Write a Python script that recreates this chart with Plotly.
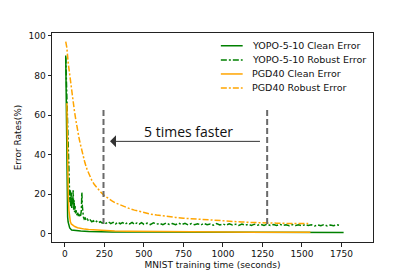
import plotly.graph_objects as go

# ---------------- data ----------------
yopo_clean_x = [5, 8, 11, 14, 17, 20, 25, 30, 42, 60, 80, 100, 150, 200, 300, 500, 800, 1100, 1400, 1764]
yopo_clean_y = [90, 60, 35, 15, 8.5, 6, 3.7, 3, 2, 1.7, 1.5, 1.4, 1.2, 1.1, 1.0, 0.9, 0.8, 0.75, 0.7, 0.7]

yopo_robust_x = [5, 10, 15, 20, 25, 28, 31, 34, 37, 40, 43, 46, 49, 52, 55, 58, 61, 64, 67, 70,
                 75, 80, 85, 90, 95, 100, 104, 107, 110, 113, 117, 122, 128, 135, 142, 150, 160, 170,
                 180, 190, 200, 212, 224, 236, 248, 260, 275, 290, 305, 320, 335, 350, 365, 380, 395,
                 410, 425, 440, 455, 470, 485, 500, 520, 540, 560, 580, 600, 620, 640, 660, 680, 700,
                 720, 740, 760, 780, 800, 820, 840, 860, 880, 900, 920, 940, 960, 980, 1000, 1020,
                 1040, 1060, 1080, 1100, 1120, 1140, 1160, 1180, 1200, 1220, 1240, 1260, 1280, 1300,
                 1320, 1340, 1360, 1380, 1400, 1420, 1440, 1460, 1480, 1500, 1520, 1540, 1560, 1580,
                 1600, 1620, 1640, 1660, 1680, 1700, 1720, 1743]
yopo_robust_y = [89, 72, 52, 40, 33, 24, 16, 22, 14, 21, 13, 18, 15, 22, 12, 17, 11, 14, 10, 12,
                 9.5, 11, 9, 10.5, 8.5, 9.5, 12, 21, 14, 9, 8.5, 7.5, 8, 6.8, 7.4, 6.4, 7.0, 6.1,
                 6.6, 5.8, 6.4, 5.6, 6.2, 5.4, 6.0, 5.3, 6.1, 5.2, 5.8, 5.0, 5.9, 5.1, 5.7, 4.9, 5.6,
                 5.0, 5.8, 4.8, 5.5, 4.9, 5.7, 4.8, 5.4, 4.7, 5.6, 4.9, 5.3, 4.6, 5.5, 4.8, 5.2, 4.6,
                 5.4, 4.7, 5.3, 4.5, 5.2, 4.6, 5.1, 4.5, 5.3, 4.6, 5.0, 4.4, 5.2, 4.5, 5.0, 4.4,
                 5.1, 4.5, 4.9, 4.3, 5.0, 4.4, 4.8, 4.3, 4.9, 4.4, 4.8, 4.2, 4.9, 4.3,
                 4.7, 4.2, 4.8, 4.3, 4.6, 4.1, 4.7, 4.2, 4.6, 4.1, 4.7, 4.2, 4.6, 4.0,
                 4.5, 4.1, 4.7, 4.0, 4.5, 4.1, 4.6, 4.2]

pgd_clean_x = [12, 15, 18, 21, 25, 30, 34, 40, 50, 62, 80, 100, 125, 150, 200, 250, 315, 400, 500,
               650, 800, 1000, 1200, 1400, 1554]
pgd_clean_y = [66, 45, 28, 19, 12, 8, 6.2, 5, 4.3, 3.7, 3.1, 2.7, 2.4, 2.2, 1.9, 1.7, 1.5, 1.3, 1.2,
               1.1, 1.0, 0.9, 0.85, 0.8, 0.8]

pgd_robust_x = [5, 12, 21, 30, 40, 48, 60, 70, 80, 90, 100, 113, 126, 140, 155, 170, 185, 200, 215,
                230, 250, 270, 295, 320, 350, 380, 410, 440, 470, 500, 540, 580, 620, 660, 700, 750,
                800, 850, 900, 950, 1000, 1060, 1120, 1170, 1220, 1280, 1340, 1400, 1460, 1540]
pgd_robust_y = [97, 94, 86, 80, 74, 69, 62, 57, 52, 48, 44.5, 40, 36, 32.5, 29.5, 27, 25, 23.5, 22,
                20.8, 19.3, 18, 16.8, 15.6, 14.5, 13.5, 12.7, 12, 11.3, 10.7, 10, 9.5, 9, 8.7, 8.3,
                7.9, 7.6, 7.4, 7.1, 6.8, 6.6, 6.3, 6.0, 5.8, 5.6, 5.5, 5.4, 5.3, 5.3, 5.2]

series_names = ["YOPO-5-10 Clean Error", "YOPO-5-10 Robust Error", "PGD40 Clean Error", "PGD40 Robust Error"]
speedup_lines_x = [244, 1280]
speedup_lines_y = [5, 64]
arrow_from = (1244, 46.7)
arrow_to = (285, 46.7)
speedup_text = "5 times faster"
speedup_text_pos = (781, 51.8)
x_ticks = [0, 250, 500, 750, 1000, 1250, 1500, 1750]
y_ticks = [0, 20, 40, 60, 80, 100]

# ---------------- styles ----------------
GREEN = "#008000"
ORANGE = "#FFA500"
DASHDOT = "6px,2px,2px,2px"
FONT = "DejaVu Sans"

fig = go.Figure()
specs = [
    (yopo_clean_x, yopo_clean_y, GREEN, "solid"),
    (yopo_robust_x, yopo_robust_y, GREEN, DASHDOT),
    (pgd_clean_x, pgd_clean_y, ORANGE, "solid"),
    (pgd_robust_x, pgd_robust_y, ORANGE, DASHDOT),
]
for (xs, ys, col, dash), name in zip(specs, series_names):
    fig.add_trace(go.Scatter(x=xs, y=ys, mode="lines", name=name, showlegend=False,
                             line=dict(color=col, width=1.5, dash=dash)))

# vertical dashed lines
for xv in speedup_lines_x:
    fig.add_shape(type="line", x0=xv, x1=xv, y0=speedup_lines_y[0], y1=speedup_lines_y[1],
                  xref="x", yref="y", line=dict(color="#6a6a6a", width=2, dash="6px,3px"))

# arrow
fig.add_annotation(x=arrow_to[0], y=arrow_to[1], ax=arrow_from[0], ay=arrow_from[1],
                   xref="x", yref="y", axref="x", ayref="y", text="", showarrow=True,
                   arrowhead=1, arrowsize=2, arrowwidth=1, arrowcolor="#333333")
fig.add_annotation(x=speedup_text_pos[0], y=speedup_text_pos[1], xref="x", yref="y",
                   text=speedup_text, showarrow=False,
                   font=dict(family="Open Sans", size=14, color="#111111"))

# manual legend
leg_rows = [0.939, 0.871, 0.804, 0.737]
for (xs, ys, col, dash), name, ry in zip(specs, series_names, leg_rows):
    fig.add_shape(type="line", xref="paper", yref="paper", x0=0.526, x1=0.594, y0=ry, y1=ry,
                  line=dict(color=col, width=1.5, dash=dash))
    fig.add_annotation(xref="paper", yref="paper", x=0.616, y=ry, text=name, showarrow=False,
                       xanchor="left", yanchor="middle",
                       font=dict(family=FONT, size=9.5, color="#111111"))

axis_common = dict(showline=True, linecolor="#222222", linewidth=1, mirror=True,
                   ticks="outside", ticklen=3.5, tickwidth=1, tickcolor="#222222",
                   showgrid=False, zeroline=False, automargin=False,
                   tickfont=dict(family=FONT, size=9, color="#111111"))
fig.update_xaxes(range=[-82, 1950], tickvals=x_ticks,
                 title=dict(text="MNIST training time (seconds)", font=dict(family=FONT, size=9, color="#111111"),
                            standoff=3), **axis_common)
fig.update_yaxes(range=[-4.1, 101.4], tickvals=y_ticks,
                 title=dict(text="Error Rates(%)", font=dict(family=FONT, size=9, color="#111111"),
                            standoff=5), **axis_common)

# page body has an 8px default margin, so the figure is drawn 8px smaller and offset
fig.update_layout(width=407, height=268, margin=dict(l=44, r=42, t=25, b=34),
                  plot_bgcolor="white", paper_bgcolor="white", showlegend=False)

fig.write_html("out.html")
